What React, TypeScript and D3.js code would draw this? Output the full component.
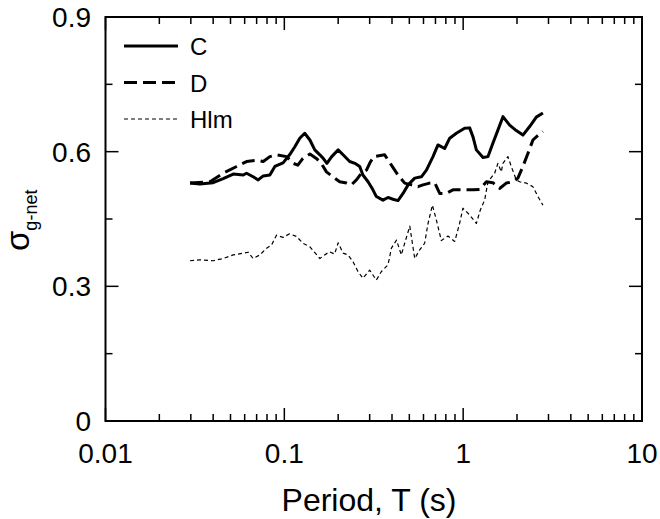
import React from 'react';
import * as d3 from 'd3';

// periods (s) and sigma values
const periodsC = [0.0297, 0.0337, 0.04, 0.0455, 0.0518, 0.0589, 0.0615, 0.0669, 0.0714, 0.0762, 0.083, 0.0885, 0.0984, 0.107, 0.1145, 0.122, 0.13, 0.139, 0.148, 0.158, 0.165, 0.173, 0.184, 0.2, 0.213, 0.232, 0.248, 0.264, 0.275, 0.294, 0.313, 0.327, 0.356, 0.38, 0.405, 0.432, 0.461, 0.492, 0.536, 0.584, 0.623, 0.65, 0.678, 0.723, 0.788, 0.841, 0.916, 1.019, 1.087, 1.135, 1.185, 1.291, 1.377, 1.466, 1.564, 1.669, 1.819, 1.982, 2.158, 2.354, 2.564, 2.792];
const sigmaC = [0.53, 0.528, 0.531, 0.54, 0.55, 0.548, 0.552, 0.544, 0.537, 0.546, 0.548, 0.567, 0.575, 0.593, 0.611, 0.63, 0.641, 0.626, 0.604, 0.593, 0.585, 0.574, 0.589, 0.604, 0.593, 0.578, 0.574, 0.567, 0.548, 0.533, 0.515, 0.5, 0.492, 0.498, 0.494, 0.491, 0.507, 0.526, 0.541, 0.544, 0.559, 0.574, 0.589, 0.615, 0.607, 0.63, 0.641, 0.652, 0.653, 0.633, 0.604, 0.587, 0.589, 0.619, 0.648, 0.678, 0.659, 0.647, 0.637, 0.656, 0.677, 0.686];

const periodsD = [0.0297, 0.0384, 0.0455, 0.0541, 0.0615, 0.0699, 0.0762, 0.083, 0.0904, 0.103, 0.112, 0.119, 0.127, 0.139, 0.151, 0.161, 0.172, 0.187, 0.204, 0.223, 0.237, 0.253, 0.27, 0.288, 0.3, 0.3155, 0.364, 0.397, 0.432, 0.471, 0.514, 0.559, 0.596, 0.65, 0.693, 0.739, 0.805, 0.877, 0.955, 1.042, 1.135, 1.236, 1.349, 1.466, 1.599, 1.742, 1.897, 2.023, 2.158, 2.301, 2.455, 2.564, 2.792];
const sigmaD = [0.53, 0.533, 0.552, 0.567, 0.578, 0.581, 0.578, 0.589, 0.593, 0.589, 0.574, 0.57, 0.585, 0.595, 0.585, 0.574, 0.555, 0.544, 0.533, 0.53, 0.526, 0.537, 0.552, 0.559, 0.574, 0.589, 0.593, 0.57, 0.548, 0.53, 0.526, 0.522, 0.526, 0.53, 0.531, 0.507, 0.507, 0.515, 0.515, 0.515, 0.515, 0.516, 0.533, 0.531, 0.518, 0.53, 0.533, 0.541, 0.567, 0.596, 0.626, 0.633, 0.645];

const periodsH = [0.0297, 0.0337, 0.04, 0.0455, 0.0518, 0.0589, 0.0628, 0.0669, 0.073, 0.0796, 0.0848, 0.0904, 0.0984, 0.107, 0.117, 0.127, 0.139, 0.158, 0.168, 0.179, 0.191, 0.2, 0.213, 0.227, 0.242, 0.258, 0.275, 0.3, 0.327, 0.349, 0.38, 0.397, 0.424, 0.451, 0.471, 0.503, 0.536, 0.571, 0.609, 0.636, 0.673, 0.708, 0.755, 0.822, 0.897, 0.955, 0.997, 1.087, 1.185, 1.247, 1.318, 1.377, 1.5, 1.564, 1.634, 1.669, 1.779, 1.858, 1.982, 2.069, 2.254, 2.455, 2.618, 2.792];
const sigmaH = [0.357, 0.359, 0.357, 0.362, 0.37, 0.374, 0.376, 0.362, 0.37, 0.385, 0.392, 0.414, 0.409, 0.417, 0.411, 0.396, 0.388, 0.362, 0.37, 0.377, 0.372, 0.397, 0.374, 0.37, 0.355, 0.333, 0.318, 0.336, 0.314, 0.333, 0.348, 0.385, 0.403, 0.37, 0.396, 0.434, 0.362, 0.381, 0.396, 0.44, 0.481, 0.448, 0.402, 0.412, 0.4, 0.44, 0.474, 0.459, 0.44, 0.47, 0.492, 0.533, 0.552, 0.574, 0.555, 0.574, 0.589, 0.567, 0.537, 0.533, 0.53, 0.522, 0.5, 0.481];

const seriesNames = ['C', 'D', 'Hlm'];
const xTickLabels = ['0.01', '0.1', '1', '10'];
const yTickLabels = ['0', '0.3', '0.6', '0.9'];

const W = 660;
const H = 519;
const margin = {top: 17, right: 18, bottom: 98, left: 105.5};
const font = '"Liberation Sans", Arial, Helvetica, sans-serif';

function App() {
    const x = d3.scaleLog().domain([0.01, 10]).range([margin.left, W - margin.right]);
    const y = d3.scaleLinear().domain([0, 0.9]).range([H - margin.bottom, margin.top]);

    const line = d3.line<[number, number]>()
        .x((d) => x(d[0]))
        .y((d) => y(d[1]));

    const zip = (a: number[], b: number[]) => a.map((p, i) => [p, b[i]] as [number, number]);

    const styles = [
        {w: 3, dash: ''},
        {w: 3, dash: '13 6'},
        {w: 1.2, dash: '4 3'}
    ];
    const data = [zip(periodsC, sigmaC), zip(periodsD, sigmaD), zip(periodsH, sigmaH)];

    // minor ticks on the log axis: 2..9 in each decade
    const xMinor: number[] = [];
    [0.01, 0.1, 1].forEach((dec) => {
        for (let k = 2; k <= 9; k++) xMinor.push(dec * k);
    });
    const xMajor = xTickLabels.map(Number);
    const yMajor = yTickLabels.map(Number);
    const yMinor = [0.15, 0.45, 0.75];

    const x0 = x.range()[0], x1 = x.range()[1];
    const y0 = y.range()[0], y1 = y.range()[1];
    const big = 13, small = 7;

    return (
        <svg width={W} height={H} style={{position: 'absolute', left: 0, top: 0}}
             fontFamily={font}>
            <rect x={0} y={0} width={W} height={H} fill="#fff"/>

            {/* data lines */}
            {data.map((d, i) => (
                <path key={i} d={line(d) || ''} fill="none" stroke="#000"
                      strokeWidth={styles[i].w} strokeDasharray={styles[i].dash}
                      strokeLinejoin="round"/>
            ))}

            {/* frame */}
            <rect x={x0} y={y1} width={x1 - x0} height={y0 - y1} fill="none" stroke="#000" strokeWidth={2}/>

            {/* x ticks, bottom and top, pointing inward */}
            {xMajor.concat(xMinor).map((t, i) => {
                const len = xMajor.includes(t) ? big : small;
                return (
                    <g key={'xt' + i} stroke="#000" strokeWidth={1.5}>
                        <line x1={x(t)} x2={x(t)} y1={y0} y2={y0 - len}/>
                        <line x1={x(t)} x2={x(t)} y1={y1} y2={y1 + len}/>
                    </g>
                );
            })}
            {/* y ticks, left and right */}
            {yMajor.concat(yMinor).map((t, i) => {
                const len = yMajor.includes(t) ? big : small;
                return (
                    <g key={'yt' + i} stroke="#000" strokeWidth={1.5}>
                        <line x1={x0} x2={x0 + len} y1={y(t)} y2={y(t)}/>
                        <line x1={x1} x2={x1 - len} y1={y(t)} y2={y(t)}/>
                    </g>
                );
            })}

            {/* tick labels */}
            {xTickLabels.map((s, i) => (
                <text key={'xl' + i} x={x(xMajor[i])} y={463} textAnchor="middle" fontSize={28}>{s}</text>
            ))}
            {yTickLabels.map((s, i) => (
                <text key={'yl' + i} x={91} y={y(yMajor[i])} dy="0.36em" textAnchor="end" fontSize={28}>{s}</text>
            ))}

            {/* axis titles */}
            <text x={369} y={511} textAnchor="middle" fontSize={32}>Period, T (s)</text>
            <text transform="translate(29, 251) rotate(-90)" fontSize={33}>
                σ<tspan fontSize={18} dy={8}>g-net</tspan>
            </text>

            {/* legend */}
            {seriesNames.map((n, i) => {
                const ly = 46 + i * 36.5;
                return (
                    <g key={'lg' + i}>
                        <line x1={124} x2={178} y1={ly} y2={ly} stroke="#000"
                              strokeWidth={styles[i].w} strokeDasharray={styles[i].dash}/>
                        <text x={190} y={ly + 9} fontSize={24}>{n}</text>
                    </g>
                );
            })}
        </svg>
    );
}

export default App;
